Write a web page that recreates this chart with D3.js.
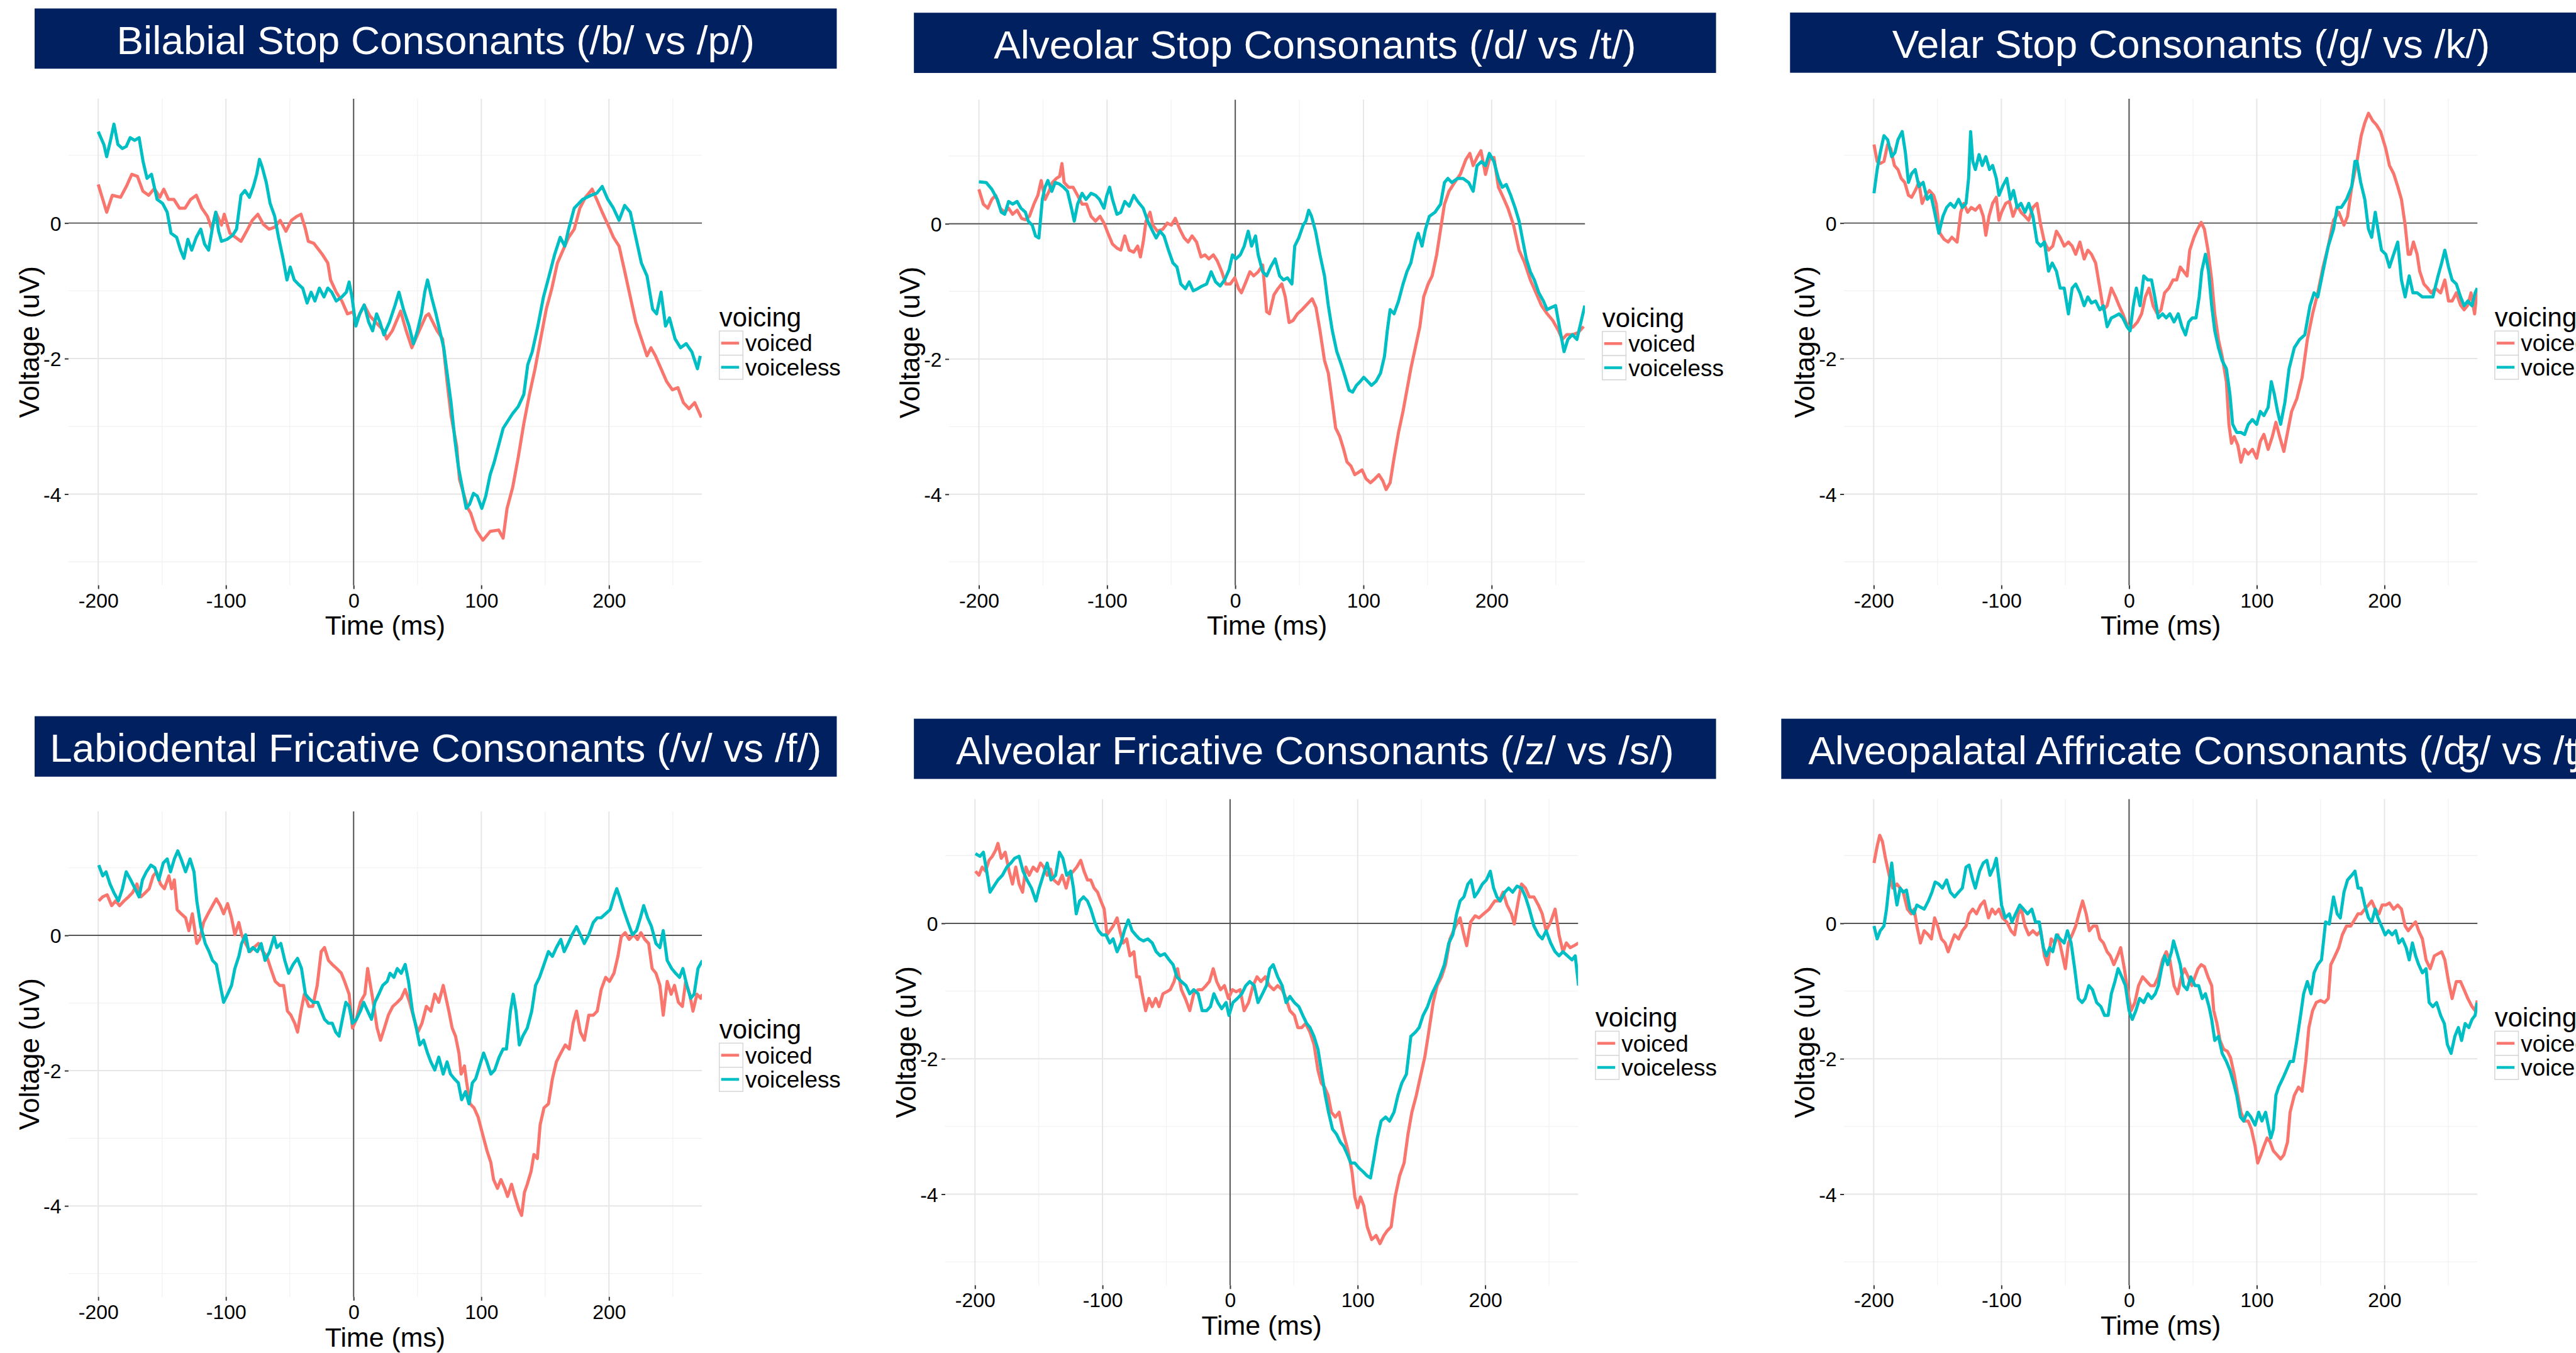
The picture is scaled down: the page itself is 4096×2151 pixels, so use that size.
<!DOCTYPE html>
<html><head><meta charset="utf-8">
<script src="https://cdn.jsdelivr.net/npm/d3@7"></script>
<style>html,body{margin:0;padding:0;background:#fff;overflow:hidden}</style>
</head><body>
<svg id="chart" width="4096" height="2151" viewBox="0 0 4107 2157"></svg>
<script>
const panelTitles = [
  "Bilabial Stop Consonants (/b/ vs /p/)",
  "Alveolar Stop Consonants (/d/ vs /t/)",
  "Velar Stop Consonants (/g/ vs /k/)",
  "Labiodental Fricative Consonants (/v/ vs /f/)",
  "Alveolar Fricative Consonants (/z/ vs /s/)",
  "Alveopalatal Affricate Consonants (/\u02A4/ vs /\u02A7/)"
];
const xTicks = [-200, -100, 0, 100, 200];
const xMinorTicks = [-150, -50, 50, 150, 250];
const yTicks = [-4, -2, 0];
const yMinorTicks = [-5, -3, -1, 1];
const seriesNames = ["voiced", "voiceless"];
const seriesColors = ["#F8766D", "#00BFC4"];
const xDomain = [-223.3, 272.8];
const yDomain = [-5.345, 1.834];
const xLabel = "Time (ms)";
const yLabel = "Voltage (uV)";
const legendTitle = "voicing";

const bilabialVoiced = [[-200,0.57],[-193.4,0.16],[-189,0.41],[-182.5,0.38],[-178,0.54],[-173.7,0.72],[-169.3,0.69],[-165,0.47],[-160.5,0.41],[-156,0.51],[-151.8,0.38],[-148.7,0.5],[-145,0.35],[-140.8,0.35],[-136.4,0.22],[-132,0.22],[-127.6,0.35],[-123.2,0.41],[-118.9,0.22],[-114.5,0.1],[-111,-0.09],[-108,0.16],[-103.5,-0.03],[-101.3,0.13],[-96.9,-0.15],[-92.5,-0.21],[-88.2,-0.27],[-83.8,-0.12],[-79.4,0.04],[-75,0.13],[-70.6,-0.02],[-66.2,-0.09],[-61.8,-0.06],[-57.5,0.04],[-53,-0.12],[-48.7,0.04],[-44.3,0.1],[-41.2,0.13],[-37.7,-0.09],[-35.5,-0.27],[-31.1,-0.3],[-24.6,-0.46],[-20.2,-0.59],[-18,-0.84],[-13.6,-1.02],[-9.2,-1.15],[-4.8,-1.34],[-0.4,-1.31],[1.8,-1.46],[8.3,-1.21],[12.7,-1.37],[17.1,-1.46],[23.7,-1.59],[25.9,-1.71],[30.3,-1.59],[34.6,-1.4],[36.8,-1.3],[41.2,-1.59],[45.6,-1.84],[50,-1.65],[56.6,-1.37],[58.8,-1.34],[65.4,-1.59],[69.7,-1.71],[73.2,-2.34],[76.3,-2.84],[80.7,-3.29],[82.9,-3.78],[89.5,-4.21],[91.7,-4.28],[96,-4.53],[101.3,-4.68],[107,-4.55],[113.6,-4.53],[117.1,-4.65],[120.2,-4.21],[124.6,-3.9],[128.9,-3.46],[133.3,-2.96],[137.7,-2.53],[142.1,-2.15],[146.5,-1.71],[150.9,-1.27],[155.3,-0.96],[159.6,-0.59],[164,-0.4],[168.4,-0.21],[172.8,-0.09],[177.2,0.22],[181.6,0.38],[186.8,0.5],[190.4,0.35],[194.7,0.16],[199.1,-0.02],[203.5,-0.21],[207.9,-0.34],[212.3,-0.71],[216.7,-1.09],[221,-1.46],[225.4,-1.71],[229.8,-1.96],[232.9,-1.84],[236.4,-1.96],[240.8,-2.15],[245.2,-2.34],[249.6,-2.46],[254,-2.43],[258.3,-2.65],[262.7,-2.74],[267.1,-2.65],[272.4,-2.87]];
const bilabialVoiceless = [[-200,1.35],[-195.6,1.16],[-193.4,0.98],[-190.4,1.22],[-187.7,1.46],[-184.6,1.16],[-181.1,1.1],[-178.1,1.13],[-175,1.26],[-171.5,1.22],[-168,1.26],[-164.9,0.91],[-161.8,0.66],[-158.3,0.72],[-153.9,0.35],[-149.6,0.29],[-146,0.16],[-143,-0.15],[-138.6,-0.21],[-135.5,-0.4],[-132.9,-0.52],[-129.8,-0.24],[-126.8,-0.4],[-123.2,-0.21],[-119.7,-0.09],[-116.7,-0.31],[-113.6,-0.4],[-110.1,-0.02],[-107.9,0.16],[-105.7,-0.12],[-103.5,-0.27],[-99.1,-0.24],[-94.7,-0.18],[-91.7,-0.09],[-88.2,0.41],[-85.1,0.48],[-81.6,0.38],[-78.5,0.54],[-75.9,0.72],[-73.7,0.94],[-71.5,0.82],[-68.4,0.6],[-65.4,0.29],[-61.8,0.1],[-58.8,-0.21],[-55.3,-0.52],[-52.2,-0.84],[-49.6,-0.65],[-46.5,-0.84],[-43.4,-0.9],[-39.9,-0.96],[-36.4,-1.18],[-33.3,-1.02],[-30.3,-1.15],[-26.8,-0.96],[-23.2,-1.09],[-20.2,-0.96],[-17.1,-1.02],[-13.6,-1.15],[-9.2,-1.09],[-5.7,-1.02],[-3.5,-0.87],[-1.3,-1.09],[1.8,-1.52],[4.8,-1.34],[8.3,-1.21],[11.8,-1.46],[14.9,-1.59],[18,-1.34],[20.6,-1.46],[23.7,-1.65],[28.1,-1.46],[32.5,-1.21],[35.5,-1.02],[39,-1.27],[43.4,-1.52],[46.9,-1.78],[50,-1.59],[53.1,-1.34],[55.7,-1.02],[57.9,-0.84],[61,-1.09],[64.5,-1.34],[67.5,-1.59],[70.6,-1.84],[73.2,-2.21],[76.3,-2.65],[79.4,-3.21],[82,-3.59],[85.1,-3.9],[88.2,-4.21],[90.8,-4.15],[93.9,-3.99],[96.9,-4.03],[100.4,-4.21],[103.5,-4.03],[107,-3.71],[110.1,-3.53],[113.6,-3.28],[117.1,-3.03],[121.5,-2.9],[124.6,-2.81],[128.9,-2.71],[133.3,-2.53],[136.4,-2.09],[139.9,-1.9],[144.3,-1.52],[148.7,-1.09],[153.1,-0.78],[157.5,-0.46],[161.8,-0.21],[165.4,-0.34],[168.4,-0.09],[172.8,0.22],[179.4,0.35],[186,0.41],[190.4,0.44],[194.7,0.54],[199.1,0.35],[203.5,0.22],[207.9,0.04],[212.3,0.26],[216.7,0.16],[221,-0.21],[225.4,-0.59],[229.8,-0.78],[234.2,-1.27],[237.3,-1.34],[240.8,-1.02],[244.3,-1.52],[247.4,-1.4],[251.8,-1.71],[256.1,-1.84],[260.5,-1.78],[264.9,-1.9],[269.3,-2.15],[271.5,-1.96]];

const alveolarStopVoiced = [[-200,0.51],[-196.5,0.29],[-193,0.23],[-189.9,0.36],[-186.9,0.42],[-183.4,0.23],[-179.9,0.17],[-176.8,0.23],[-173.7,0.14],[-170.2,0.2],[-166.7,0.08],[-163.7,0.06],[-160.6,0.11],[-157.1,0.29],[-154,0.42],[-151.4,0.64],[-148.4,0.36],[-145.3,0.48],[-142.7,0.61],[-139.6,0.67],[-137,0.7],[-135.2,0.89],[-133.5,0.61],[-130,0.54],[-126.5,0.54],[-123,0.42],[-119.5,0.29],[-116,0.29],[-112.5,0.11],[-109,0.04],[-105.5,0.11],[-102.4,0.01],[-99.3,-0.14],[-95.8,-0.3],[-92.3,-0.36],[-89.3,-0.39],[-86.2,-0.18],[-82.7,-0.39],[-79.2,-0.42],[-76.1,-0.33],[-74,-0.49],[-71.8,-0.27],[-69.6,0.04],[-66.5,0.17],[-64.3,-0.02],[-60.8,-0.11],[-56.5,-0.08],[-53,0.01],[-49.9,-0.02],[-46.8,0.08],[-43.3,-0.08],[-39.8,-0.21],[-36.8,-0.27],[-33.7,-0.18],[-30.2,-0.27],[-26.7,-0.49],[-23.6,-0.46],[-20.6,-0.52],[-17.1,-0.46],[-14,-0.55],[-10.5,-0.71],[-7.4,-0.89],[-3.9,-0.89],[-0.4,-0.8],[2.6,-0.96],[4.8,-1.02],[8.3,-0.86],[11.4,-0.71],[14.4,-0.77],[17.9,-0.71],[21.4,-0.61],[24.5,-1.3],[26.7,-1.33],[30.2,-1.05],[33.3,-0.96],[36.3,-0.89],[39,-1.08],[42,-1.46],[45.1,-1.43],[48.6,-1.33],[52.1,-1.27],[56.5,-1.18],[60,-1.11],[63,-1.24],[66.1,-1.58],[69.6,-2.02],[72.6,-2.21],[75.7,-2.64],[78.3,-3.02],[81.4,-3.14],[84.5,-3.33],[87.1,-3.52],[90.2,-3.58],[93.2,-3.71],[95.8,-3.68],[98.9,-3.64],[102,-3.77],[105.5,-3.83],[109,-3.77],[112,-3.71],[115.1,-3.8],[117.7,-3.93],[120.8,-3.83],[123.9,-3.46],[127.4,-3.08],[130.9,-2.77],[133.9,-2.46],[137,-2.14],[140.5,-1.83],[144,-1.52],[147,-1.08],[150.5,-0.89],[153.6,-0.77],[157.1,-0.46],[160.2,-0.08],[163.2,0.29],[166.7,0.48],[171.1,0.61],[175.5,0.73],[179.9,0.95],[183,1.04],[185.6,0.86],[188.6,0.98],[191.7,1.08],[195.2,0.73],[198.2,0.95],[201.8,0.98],[205.3,0.54],[208.3,0.42],[212.7,0.23],[217.1,-0.02],[221.4,-0.39],[225.8,-0.58],[230.2,-0.83],[234.6,-1.02],[238.9,-1.21],[243.3,-1.33],[247.7,-1.43],[252.1,-1.58],[255.1,-1.71],[258.6,-1.64],[263,-1.64],[267.4,-1.61],[271.8,-1.52]];
const alveolarStopVoiceless = [[-200,0.62],[-194.3,0.61],[-189.9,0.51],[-185.6,0.36],[-182.5,0.17],[-179.9,0.14],[-176.8,0.33],[-173.7,0.29],[-170.2,0.33],[-167.2,0.23],[-163.7,0.17],[-161.5,0.04],[-158.4,-0.02],[-155.8,-0.18],[-153.2,-0.21],[-150.5,0.36],[-148.4,0.54],[-146.2,0.64],[-143.1,0.48],[-140.5,0.61],[-137.4,0.59],[-133.9,0.54],[-130.9,0.48],[-127.8,0.23],[-125.6,0.04],[-123,0.29],[-119.5,0.45],[-116.4,0.36],[-112.5,0.45],[-109,0.42],[-105.9,0.36],[-102.4,0.23],[-100.2,0.42],[-98,0.54],[-95.8,0.36],[-92.3,0.14],[-89.3,0.17],[-86.2,0.33],[-82.7,0.26],[-79.2,0.42],[-76.1,0.33],[-71.8,0.23],[-68.3,0.04],[-65.2,-0.08],[-61.7,-0.21],[-58.7,-0.11],[-55.6,-0.18],[-52.1,-0.39],[-48.6,-0.58],[-45.5,-0.64],[-42.5,-0.89],[-38.9,-0.96],[-35.9,-0.86],[-32.8,-0.99],[-29.3,-0.96],[-25.8,-0.92],[-22.3,-0.89],[-18.8,-0.71],[-15.3,-0.86],[-11.8,-0.92],[-8.3,-0.83],[-4.8,-0.68],[-2.2,-0.46],[0.4,-0.52],[3.9,-0.46],[7,-0.33],[10.1,-0.11],[12.7,-0.33],[15.8,-0.18],[17.9,-0.46],[21.4,-0.71],[24.5,-0.77],[27.6,-0.64],[31.1,-0.52],[34.6,-0.77],[37.6,-0.83],[40.7,-0.8],[44.2,-0.89],[46.4,-0.33],[49.5,-0.21],[53,-0.02],[55.1,0.04],[57.3,0.2],[59.5,0.11],[62.6,-0.11],[66.1,-0.46],[69.6,-0.77],[72.6,-1.21],[75.7,-1.58],[79.2,-1.89],[82.7,-2.08],[85.8,-2.27],[88.8,-2.46],[91.5,-2.49],[94.5,-2.39],[97.6,-2.33],[100.2,-2.27],[103.3,-2.33],[106.3,-2.39],[109.8,-2.33],[113.3,-2.21],[116.4,-1.96],[118.6,-1.58],[120.8,-1.27],[123.9,-1.33],[127.4,-1.14],[130.9,-0.89],[133.9,-0.71],[137,-0.58],[140.5,-0.27],[142.7,-0.14],[145.7,-0.33],[148.4,-0.08],[151.4,0.11],[155.8,0.17],[160.2,0.29],[163.2,0.61],[165.9,0.67],[168.9,0.61],[173.3,0.67],[177.7,0.67],[182.1,0.61],[185.6,0.48],[188.6,0.86],[192.1,0.92],[195.2,0.86],[198.2,1.04],[201.8,0.92],[205.3,0.67],[208.3,0.54],[211.4,0.58],[214.9,0.42],[218.4,0.23],[221.4,0.04],[224.5,-0.27],[227.1,-0.52],[230.2,-0.71],[233.3,-0.83],[236.8,-1.02],[240.3,-1.14],[243.3,-1.27],[246.4,-1.24],[249.9,-1.21],[253.4,-1.58],[256.5,-1.89],[259.5,-1.71],[263,-1.64],[266.5,-1.71],[269.6,-1.46],[272.7,-1.21]];

const velarVoiced = [[-199.8,1.16],[-197.3,0.91],[-194.9,0.88],[-192,0.91],[-189.1,1.16],[-186.7,1.1],[-183.8,0.85],[-181,0.79],[-178.5,0.66],[-175.7,0.6],[-172.8,0.41],[-170.3,0.38],[-167.5,0.48],[-164.6,0.6],[-162.1,0.29],[-159.3,0.41],[-156.4,0.48],[-153.1,0.41],[-151.1,0.29],[-148.2,-0.15],[-144.9,-0.24],[-141.7,-0.28],[-138.8,-0.21],[-134.7,-0.28],[-131.8,0.16],[-129.4,0.29],[-126.5,0.16],[-123.6,0.23],[-120.4,0.19],[-117.1,0.26],[-114.2,0.1],[-112.2,-0.18],[-109.7,0.1],[-106.9,0.29],[-104,0.38],[-101.9,0.04],[-99.9,0.16],[-96.6,0.29],[-93.8,0.32],[-90.9,0.1],[-87.6,0.26],[-84.7,0.16],[-81.5,0.1],[-78.6,0.04],[-75.3,0.23],[-72.1,0.29],[-69.2,-0.03],[-66.3,-0.28],[-63.1,-0.4],[-59.8,-0.34],[-56.9,-0.12],[-54,-0.21],[-50.8,-0.34],[-47.5,-0.28],[-44.6,-0.34],[-41.8,-0.46],[-38.5,-0.28],[-35.2,-0.53],[-32.3,-0.4],[-29.5,-0.46],[-26.2,-0.59],[-22.9,-0.96],[-20.1,-1.28],[-17.2,-1.22],[-13.9,-0.96],[-10.6,-1.09],[-7.8,-1.22],[-4.9,-1.34],[-2.5,-1.46],[0.4,-1.56],[3.3,-1.53],[6.6,-1.46],[9.8,-1.34],[12.7,-1.09],[15.6,-0.96],[18.8,-1.22],[22.1,-1.34],[25,-1.28],[27.8,-1.03],[31.1,-0.96],[34.4,-0.84],[37.3,-0.84],[40.1,-0.65],[42.6,-0.71],[45.4,-0.78],[47.5,-0.4],[50.8,-0.21],[53.6,-0.09],[56.5,0.01],[59,-0.09],[61.8,-0.4],[64.7,-0.84],[67.1,-1.34],[70,-1.72],[72.9,-1.97],[76.2,-2.34],[78.2,-2.97],[80.2,-3.25],[82.3,-3.15],[85.2,-3.28],[87.6,-3.53],[90.5,-3.34],[93.3,-3.41],[96.6,-3.34],[99.9,-3.47],[102.8,-3.22],[105.6,-3.12],[108.9,-3.34],[112.2,-3.15],[115,-2.94],[117.9,-3.15],[121.2,-3.37],[124.1,-3.09],[127.3,-2.78],[131.4,-2.59],[135.5,-2.28],[139.6,-1.72],[143.7,-1.34],[147.8,-1.03],[151.9,-0.65],[156,-0.34],[160.1,0.04],[164.2,0.16],[168.3,-0.03],[171.1,0.1],[174.4,0.54],[178.5,0.91],[181.8,1.29],[184.6,1.48],[187.5,1.62],[190.8,1.51],[193.7,1.45],[197,1.35],[201,1.1],[203.9,0.85],[207.2,0.73],[210.4,0.54],[213.3,0.35],[216.2,-0.03],[218.6,-0.46],[220.3,-0.46],[222.7,-0.28],[225.6,-0.46],[227.6,-0.71],[230.9,-0.9],[233.8,-0.96],[236.6,-1.03],[239.9,-0.96],[244,-1.03],[247.3,-0.84],[250.2,-1.15],[253,-1.15],[256.3,-1.03],[259.6,-1.21],[262.4,-1.28],[265.3,-1.21],[267.8,-1.03],[270.6,-1.34],[272.7,-0.96]];
const velarVoiceless = [[-199.8,0.44],[-197.3,0.79],[-194.9,1.04],[-192,1.29],[-189.1,1.23],[-185.9,0.98],[-183.4,1.04],[-181,1.23],[-177.7,1.35],[-175.2,1.04],[-172.8,0.6],[-170.3,0.73],[-167.5,0.79],[-164.6,0.54],[-161.3,0.6],[-158,0.35],[-155.2,0.41],[-152.3,0.16],[-149,-0.15],[-145.8,0.1],[-142.9,0.23],[-140,0.29],[-136.8,0.23],[-133.5,0.35],[-130.6,0.23],[-127.7,0.29],[-125.7,0.66],[-124.1,1.35],[-122.4,0.91],[-120.4,0.79],[-117.5,1.01],[-115,0.85],[-112.2,0.98],[-109.3,0.79],[-106.9,0.85],[-104,0.66],[-101.9,0.41],[-99.1,0.54],[-95.8,0.66],[-93,0.35],[-90.5,0.48],[-87.6,0.23],[-84.7,0.29],[-81.5,0.16],[-78.6,0.29],[-75.3,0.1],[-72.1,-0.28],[-69.2,-0.34],[-66.3,-0.28],[-63.1,-0.71],[-60.2,-0.59],[-56.9,-0.71],[-54,-0.96],[-50.8,-0.96],[-47.5,-1.34],[-44.6,-0.96],[-41.8,-0.9],[-38.5,-1.03],[-35.2,-1.22],[-32.3,-1.09],[-29.5,-1.18],[-26.2,-1.15],[-22.9,-1.28],[-20.1,-1.22],[-17.2,-1.53],[-13.9,-1.4],[-10.6,-1.37],[-7.8,-1.34],[-4.9,-1.4],[-1.6,-1.53],[0.8,-1.59],[3.3,-1.22],[5.7,-0.96],[8.6,-1.22],[11.5,-0.78],[14.7,-0.84],[17.6,-0.84],[20.1,-1.09],[22.9,-1.4],[26.2,-1.34],[29.1,-1.4],[31.9,-1.34],[35.2,-1.46],[38.5,-1.34],[41.4,-1.53],[44.2,-1.65],[46.7,-1.46],[49.5,-1.4],[52.4,-1.4],[54.9,-1.09],[56.9,-0.71],[59.8,-0.46],[62.2,-0.71],[64.7,-1.22],[67.1,-1.59],[70,-1.84],[72.9,-2.03],[76.2,-2.15],[79,-2.53],[81.1,-2.97],[84.3,-3.09],[87.6,-3.09],[90.5,-3.12],[93.3,-2.97],[96.6,-2.9],[99.9,-2.97],[102.8,-2.78],[105.6,-2.84],[108.9,-2.72],[111.4,-2.34],[113.8,-2.53],[116.3,-2.78],[118.7,-2.97],[122,-2.65],[125.3,-2.15],[129.4,-1.84],[133.5,-1.72],[137.6,-1.65],[141.7,-1.22],[144.9,-1.03],[147.8,-1.09],[151.9,-0.71],[156,-0.34],[160.1,-0.09],[163,0.23],[166.2,0.23],[170.3,0.35],[174.4,0.54],[176.9,0.91],[178.5,0.91],[181.4,0.6],[184.6,0.35],[187.5,-0.09],[190,-0.21],[192.8,0.16],[194.9,-0.09],[197.7,-0.4],[201,-0.46],[203.9,-0.65],[207.2,-0.46],[210.4,-0.28],[213.3,-0.84],[216.2,-1.09],[219.4,-0.78],[222.3,-1.03],[225.6,-1.03],[229.7,-1.09],[233.8,-1.09],[237.9,-1.09],[242,-0.78],[244.8,-0.59],[247.3,-0.4],[250.2,-0.65],[253,-0.84],[256.3,-0.9],[259.6,-1.09],[262.4,-1.22],[265.3,-1.15],[268.6,-1.22],[271,-1.03],[272.7,-0.96]];

const labiodentalVoiced = [[-199.6,0.51],[-196.5,0.57],[-193,0.6],[-189.5,0.44],[-186.4,0.51],[-183.3,0.44],[-179.8,0.51],[-176.3,0.57],[-173.2,0.63],[-169.7,0.76],[-166.7,0.57],[-163.2,0.63],[-160.1,0.69],[-157,0.88],[-154.4,0.94],[-151.3,0.76],[-148.2,0.69],[-144.7,0.88],[-142.5,0.69],[-140.4,0.82],[-138.2,0.38],[-135.1,0.32],[-131.6,0.26],[-129,0.07],[-126.3,0.32],[-122.8,-0.12],[-120.6,-0.06],[-117.5,0.19],[-114,0.32],[-110.5,0.44],[-107.5,0.54],[-104.4,0.44],[-101.8,0.32],[-98.7,0.47],[-95.6,0.26],[-93,0.01],[-89.9,0.19],[-87.7,0.01],[-84.6,-0.12],[-81.1,-0.24],[-78.1,-0.18],[-74.6,-0.12],[-71.1,-0.24],[-68,-0.31],[-64.9,-0.49],[-61.4,-0.68],[-57.9,-0.74],[-54.8,-0.74],[-51.8,-1.12],[-49.1,-1.18],[-46.1,-1.3],[-43.9,-1.43],[-41.2,-1.12],[-38.6,-0.87],[-35.1,-1.05],[-32,-1.05],[-28.5,-0.74],[-25.4,-0.24],[-22.8,-0.18],[-19.7,-0.37],[-16.7,-0.43],[-13.2,-0.49],[-9.6,-0.56],[-7.1,-0.68],[-3.5,-0.87],[-0.9,-1.37],[2.2,-1.24],[5.3,-0.99],[8.8,-0.87],[11,-0.49],[13.2,-0.74],[15.4,-0.99],[18.4,-1.37],[21.1,-1.55],[24.1,-1.37],[27.2,-1.18],[30.7,-1.05],[34.2,-0.99],[37.3,-0.93],[40.4,-0.8],[43.9,-0.99],[47.4,-1.24],[50.4,-1.43],[53.5,-1.3],[57,-1.05],[60.5,-1.12],[63.6,-0.87],[66.7,-0.99],[70.2,-0.74],[72.4,-0.93],[74.6,-1.12],[77.2,-1.37],[79.8,-1.49],[82.5,-1.74],[84.2,-2.05],[86.8,-1.93],[88.6,-2.18],[91.2,-2.49],[94.3,-2.55],[97.4,-2.68],[100.9,-2.93],[104.4,-3.18],[107.5,-3.36],[109.6,-3.61],[112.7,-3.74],[115.4,-3.61],[118.4,-3.74],[120.6,-3.86],[123.7,-3.68],[126.3,-3.86],[129.4,-4.05],[131.6,-4.14],[133.8,-3.8],[136,-3.68],[139,-3.49],[141.2,-3.24],[143.9,-3.3],[146.1,-2.8],[149.1,-2.55],[152.6,-2.49],[155.7,-2.12],[158.8,-1.87],[162.3,-1.74],[165.8,-1.62],[168.9,-1.68],[171.9,-1.3],[174.6,-1.12],[177.6,-1.43],[180.7,-1.55],[184.2,-1.18],[187.7,-1.18],[190.8,-1.12],[193.9,-0.8],[197.4,-0.62],[200.4,-0.68],[203.9,-0.56],[207,-0.31],[209.6,-0.02],[212.7,0.04],[215.8,-0.06],[219.3,0.01],[222.4,-0.06],[225,0.04],[228.1,-0.06],[231.1,-0.12],[233.8,-0.49],[236.8,-0.56],[239.9,-0.74],[242.5,-1.18],[245.6,-0.68],[248.7,-0.87],[251.3,-0.74],[254.4,-0.99],[257.5,-1.05],[260.1,-0.68],[263.2,-0.87],[265.8,-1.12],[268.9,-0.87],[271.9,-0.93],[273.2,-0.87]];
const labiodentalVoiceless = [[-199.6,1.04],[-196.5,0.88],[-193.9,0.94],[-190.8,0.76],[-187.7,0.63],[-184.2,0.51],[-181.1,0.69],[-178.1,0.94],[-174.6,0.82],[-171.1,0.69],[-168,0.57],[-165.4,0.82],[-162.3,0.94],[-158.8,1.04],[-155.7,1.0],[-152.6,0.82],[-149.1,1.07],[-146,1.13],[-143.4,0.94],[-140.4,1.13],[-137.7,1.25],[-135.1,1.13],[-131.6,0.94],[-128.1,1.13],[-125,0.94],[-122.8,0.51],[-119.7,0.13],[-116.2,-0.12],[-113.2,-0.24],[-110.5,-0.37],[-107.5,-0.43],[-104.4,-0.74],[-101.8,-0.99],[-98.7,-0.87],[-95.6,-0.74],[-93,-0.49],[-89.9,-0.31],[-87.7,-0.12],[-84.6,0.01],[-82,-0.24],[-78.9,-0.18],[-75.4,-0.24],[-72.4,-0.12],[-69.3,-0.37],[-65.8,-0.24],[-62.3,-0.02],[-60.1,-0.18],[-57,-0.12],[-53.9,-0.37],[-50.9,-0.56],[-47.4,-0.43],[-43.9,-0.34],[-40.8,-0.49],[-37.7,-0.87],[-35.1,-0.93],[-31.6,-0.99],[-28.1,-0.99],[-25.4,-1.12],[-22.8,-1.24],[-19.7,-1.3],[-16.7,-1.3],[-14,-1.43],[-11.4,-1.49],[-8.8,-1.24],[-6.1,-0.99],[-3.5,-1.05],[-0.9,-1.3],[2.2,-1.24],[5.3,-1.12],[7.9,-0.99],[11,-1.12],[14,-1.24],[16.7,-0.99],[19.7,-0.87],[22.8,-0.74],[26.3,-0.68],[28.5,-0.56],[31.6,-0.62],[34.2,-0.49],[37.3,-0.56],[40.4,-0.43],[43,-0.68],[46.1,-1.12],[49.1,-1.37],[51.8,-1.62],[54.8,-1.55],[57.9,-1.74],[60.5,-1.87],[63.6,-1.99],[66.7,-1.8],[70.2,-2.05],[73.2,-1.87],[75.9,-2.05],[78.9,-2.12],[82,-2.18],[84.6,-2.43],[87.7,-2.31],[90.4,-2.49],[93,-2.18],[95.6,-2.12],[98.7,-1.93],[101.8,-1.74],[104.4,-1.87],[107.5,-2.05],[110.5,-1.99],[114,-1.8],[117.1,-1.68],[119.7,-1.68],[122.8,-1.12],[125,-0.87],[127.2,-1.12],[129.8,-1.62],[132.5,-1.49],[136,-1.37],[139.5,-1.12],[142.5,-0.74],[145.6,-0.62],[149.1,-0.43],[152.6,-0.24],[155.7,-0.31],[158.8,-0.18],[162.3,-0.06],[164.9,-0.24],[168,-0.12],[171.1,0.01],[174.6,0.13],[177.6,0.01],[180.7,-0.12],[184.2,0.01],[187.7,0.19],[190.8,0.26],[193.9,0.26],[197.4,0.32],[200.9,0.38],[203.9,0.57],[206.1,0.69],[208.3,0.57],[211.4,0.38],[214.9,0.19],[218.4,0.01],[221.5,0.07],[224.6,0.26],[227.2,0.44],[230.3,0.26],[233.3,0.13],[236.8,-0.12],[239.9,-0.18],[242.5,0.07],[245.6,-0.37],[249.1,-0.49],[252.2,-0.56],[255.3,-0.62],[257.9,-0.49],[261,-0.74],[264,-0.93],[266.7,-0.87],[269.7,-0.49],[273.2,-0.37]];

const alveolarFricVoiced = [[-199.6,0.77],[-196.9,0.71],[-194.3,0.83],[-191.7,0.77],[-189,0.93],[-186.4,0.99],[-183.8,1.08],[-182,1.18],[-179.4,0.96],[-176.3,1.05],[-173.2,0.77],[-170.6,0.58],[-168,0.83],[-165.4,0.58],[-162.7,0.46],[-160.1,0.83],[-157.5,0.71],[-154.4,0.83],[-151.3,0.77],[-148.7,0.89],[-146.1,0.83],[-143.4,0.71],[-140.8,0.8],[-138.2,0.64],[-134.6,0.58],[-131.6,0.71],[-128.5,0.52],[-125.9,0.71],[-122.8,0.77],[-120.2,0.83],[-117.1,0.93],[-114.5,0.77],[-111.8,0.64],[-109.2,0.64],[-106.6,0.52],[-103.9,0.46],[-101.3,0.33],[-98.7,0.21],[-96.5,-0.17],[-94.3,-0.11],[-91.7,-0.04],[-88.6,0.08],[-86.4,-0.11],[-83.8,-0.29],[-81.1,-0.23],[-78.5,-0.48],[-75.4,-0.42],[-73.2,-0.79],[-71.1,-0.79],[-68.9,-1.04],[-66.2,-1.29],[-63.6,-1.11],[-61,-1.23],[-58.3,-1.11],[-55.7,-1.23],[-52.6,-1.04],[-49.6,-1.01],[-46.9,-0.98],[-43.9,-0.86],[-41.2,-0.67],[-38.2,-0.98],[-35.1,-1.11],[-31.6,-1.29],[-28.5,-1.04],[-25,-0.98],[-21.9,-0.98],[-18.9,-0.92],[-16.2,-0.86],[-13.2,-0.67],[-10.5,-0.86],[-7.5,-0.98],[-4.4,-0.92],[-1.3,-1.11],[1.8,-0.98],[4.8,-1.01],[7.9,-0.98],[11,-1.29],[14.5,-1.17],[18,-0.92],[21.1,-0.79],[24.1,-0.86],[27.6,-0.79],[30.7,-0.92],[34.2,-0.98],[37.3,-0.92],[40.8,-0.98],[43.9,-1.11],[46.9,-1.29],[50.4,-1.36],[53.1,-1.54],[56.1,-1.54],[59.2,-1.48],[62.7,-1.61],[65.8,-1.79],[68.9,-2.17],[71.5,-2.36],[74.1,-2.42],[76.8,-2.54],[79.4,-2.79],[82.5,-2.86],[85.5,-2.79],[89,-3.11],[92.5,-3.36],[95.6,-3.67],[97.8,-4.04],[100,-4.2],[102.2,-4.04],[104.8,-4.17],[107.5,-4.48],[111,-4.67],[114.5,-4.61],[117.5,-4.73],[120.6,-4.61],[123.2,-4.54],[126.3,-4.48],[129.4,-4.04],[132.9,-3.73],[136.4,-3.54],[139.5,-3.11],[142.5,-2.79],[146,-2.54],[149.6,-2.23],[152.6,-1.98],[155.7,-1.61],[159.2,-1.17],[162.3,-0.92],[165.8,-0.79],[168.9,-0.61],[172.4,-0.23],[176.8,-0.04],[180.3,0.08],[183.3,-0.17],[185.5,-0.33],[188.6,0.02],[192.1,0.11],[195.2,0.08],[198.7,0.14],[203.1,0.21],[207.5,0.33],[211,0.33],[214,0.46],[217.1,0.27],[220.6,0.14],[222.8,-0.01],[225.9,0.33],[228.5,0.58],[231.6,0.52],[234.6,0.39],[238.2,0.39],[241.7,0.27],[244.7,0.14],[247.8,-0.11],[251.3,0.02],[254.8,0.21],[257.9,-0.17],[261,-0.42],[263.6,-0.29],[266.7,-0.36],[269.7,-0.33],[273.2,-0.29]];
const alveolarFricVoiceless = [[-199.6,1.03],[-196.1,0.99],[-193.4,1.05],[-190.8,0.77],[-188.2,0.46],[-185.1,0.55],[-182,0.64],[-178.5,0.71],[-175,0.83],[-171.9,0.89],[-168.9,0.96],[-165.4,0.99],[-162.3,0.77],[-159.2,0.64],[-155.7,0.52],[-152.2,0.33],[-149.6,0.52],[-146.5,0.71],[-143.4,0.89],[-140.4,0.64],[-136.8,0.71],[-133.8,1.05],[-131.1,0.96],[-128.1,0.71],[-125,0.77],[-122.8,0.52],[-120.6,0.14],[-118,0.33],[-114.9,0.39],[-111.8,0.33],[-109.2,0.21],[-106.1,0.02],[-103.1,-0.11],[-100.4,-0.17],[-97.4,-0.17],[-94.3,-0.29],[-91.7,-0.23],[-88.6,-0.42],[-85.5,-0.29],[-82.9,-0.11],[-79.8,0.05],[-76.8,-0.11],[-74.1,-0.17],[-71.1,-0.23],[-68,-0.26],[-64.5,-0.23],[-61,-0.29],[-57.9,-0.42],[-54.8,-0.48],[-51.3,-0.45],[-47.8,-0.54],[-44.7,-0.61],[-41.7,-0.79],[-38.2,-0.86],[-34.6,-0.92],[-31.6,-1.04],[-28.5,-0.98],[-25,-1.04],[-21.9,-1.29],[-18.4,-1.29],[-15.4,-1.23],[-12.7,-1.04],[-9.6,-1.17],[-6.6,-1.26],[-3.1,-1.17],[-0.9,-1.36],[2.2,-1.17],[5.7,-1.11],[9.2,-1.04],[12.3,-0.92],[15.4,-0.86],[18.9,-0.92],[21.9,-1.17],[25.4,-1.04],[28.5,-0.92],[31.1,-0.67],[33.8,-0.61],[37.3,-0.79],[40.8,-0.92],[43.9,-1.17],[46.9,-1.08],[50.4,-1.17],[53.9,-1.23],[57,-1.36],[60.1,-1.48],[62.7,-1.54],[65.8,-1.67],[68.9,-1.86],[71.5,-2.17],[74.6,-2.54],[77.2,-2.79],[80.3,-3.04],[83.3,-3.11],[86.4,-3.23],[89,-3.29],[92.1,-3.42],[94.7,-3.54],[97.8,-3.54],[100.9,-3.61],[104.4,-3.67],[107.5,-3.73],[110.1,-3.76],[112.7,-3.48],[115.4,-3.17],[118.4,-2.92],[121.9,-2.86],[125,-2.92],[128.5,-2.79],[131.6,-2.54],[134.6,-2.36],[138.2,-2.23],[141.7,-1.67],[145.2,-1.61],[148.2,-1.54],[151.3,-1.36],[154.8,-1.23],[158.3,-1.04],[161.4,-0.92],[164.5,-0.79],[168,-0.61],[171.5,-0.29],[174.6,-0.17],[177.6,0.14],[180.3,0.33],[183.3,0.39],[186.4,0.58],[189,0.64],[191.7,0.39],[194.3,0.46],[197.8,0.58],[200.9,0.64],[204,0.77],[206.6,0.52],[209.2,0.39],[211.8,0.33],[215.4,0.46],[218.4,0.52],[221.5,0.46],[225,0.55],[228.5,0.52],[231.6,0.39],[234.6,0.21],[238.2,-0.04],[241.7,-0.17],[244.7,-0.23],[247.8,-0.11],[251.3,-0.29],[254.8,-0.42],[257.9,-0.48],[261,-0.42],[264.5,-0.48],[268,-0.54],[270.6,-0.48],[273.2,-0.92]];

const alveopalatalVoiced = [[-199.8,0.89],[-197.3,1.14],[-195.3,1.3],[-193.2,1.21],[-190.8,0.96],[-187.9,0.71],[-185.1,0.52],[-181.8,0.58],[-179.3,0.52],[-176.9,0.46],[-173.6,0.21],[-170.7,0.14],[-168.3,0.21],[-166.2,-0.04],[-163.4,-0.29],[-160.5,-0.11],[-157.2,-0.17],[-154.8,-0.23],[-152.3,0.08],[-149.9,-0.04],[-147,-0.23],[-144.1,-0.29],[-141.7,-0.42],[-139.2,-0.29],[-136.7,-0.17],[-133.5,-0.23],[-130.6,-0.11],[-127.7,-0.04],[-125.3,0.14],[-122.4,0.21],[-119.5,0.14],[-116.3,0.27],[-113.4,0.33],[-110.1,0.08],[-107.3,0.21],[-104.8,0.14],[-101.9,0.21],[-99.1,0.08],[-95.8,0.02],[-92.5,-0.11],[-89.7,-0.17],[-86.8,0.14],[-84.3,0.21],[-81.5,-0.04],[-78.6,-0.17],[-75.3,-0.11],[-72.1,-0.17],[-69.2,-0.11],[-66.3,-0.48],[-63.9,-0.61],[-61,-0.23],[-58.1,-0.29],[-55.7,-0.17],[-52.8,-0.42],[-49.9,-0.67],[-47.5,-0.29],[-44.6,-0.17],[-41.8,-0.04],[-39.3,0.14],[-36.4,0.33],[-33.6,0.14],[-31.1,-0.11],[-28.2,-0.04],[-25.4,-0.04],[-22.9,-0.23],[-20.1,-0.29],[-17.2,-0.42],[-14.7,-0.48],[-11.9,-0.61],[-9,-0.48],[-6.6,-0.36],[-3.7,-0.67],[-0.8,-1.04],[1.6,-1.29],[4.5,-1.17],[7.4,-0.92],[10.6,-0.79],[13.9,-0.86],[16.8,-0.92],[19.7,-0.92],[22.9,-0.79],[26.2,-0.54],[29.1,-0.42],[31.9,-0.54],[35.2,-0.92],[38.1,-1.04],[40.9,-0.79],[43.4,-0.67],[46.3,-0.79],[49.1,-0.92],[51.6,-0.79],[54,-0.67],[56.5,-0.61],[59,-0.64],[61.8,-0.79],[64.7,-0.92],[66.3,-1.29],[68.8,-1.48],[71.2,-1.73],[74.1,-1.86],[77,-1.89],[79.4,-1.98],[82.3,-2.23],[85.2,-2.54],[87.6,-2.79],[90.5,-2.92],[93.3,-2.92],[95.8,-3.04],[98.7,-3.29],[100.7,-3.54],[103.2,-3.42],[105.6,-3.29],[108.1,-3.17],[110.5,-3.23],[113,-3.36],[115.9,-3.42],[118.7,-3.48],[121.2,-3.42],[124.1,-3.23],[126.1,-2.79],[129.4,-2.54],[132.7,-2.42],[135.5,-2.48],[138.4,-2.04],[140.8,-1.54],[143.7,-1.29],[146.6,-1.17],[149.8,-1.14],[153.1,-1.17],[156,-1.11],[158,-0.61],[161.3,-0.48],[164.2,-0.36],[167,-0.17],[170.3,-0.04],[173.6,-0.04],[176.5,0.05],[179.3,0.14],[181.8,0.14],[184.6,0.21],[187.5,0.27],[190,0.33],[192.8,0.21],[195.7,0.14],[198.2,0.27],[201,0.27],[203.9,0.3],[207.2,0.21],[210.4,0.27],[213.3,0.21],[216.2,-0.04],[218.6,-0.11],[221.5,-0.04],[224.4,0.02],[226.8,-0.11],[229.7,-0.23],[232.6,-0.54],[235.8,-0.67],[239.1,-0.48],[242,-0.45],[244.8,-0.42],[247.3,-0.54],[250.2,-0.86],[253,-1.11],[256.3,-0.86],[259.6,-0.86],[262.4,-0.98],[265.3,-1.11],[268.6,-1.23],[271,-1.29],[272.7,-1.14]];
const alveopalatalVoiceless = [[-199.8,-0.04],[-197.3,-0.23],[-194.9,-0.11],[-192,-0.04],[-190,0.21],[-187.9,0.58],[-185.9,0.89],[-183.8,0.52],[-181.8,0.27],[-179.3,0.52],[-176.9,0.46],[-174.4,0.49],[-171.6,0.21],[-168.7,0.14],[-166.2,0.27],[-163.4,0.24],[-160.5,0.21],[-157.2,0.33],[-154.4,0.46],[-151.9,0.61],[-149.1,0.58],[-146.2,0.52],[-142.9,0.64],[-140,0.46],[-136.7,0.39],[-133.5,0.46],[-130.6,0.52],[-127.7,0.83],[-125.3,0.86],[-122.4,0.64],[-120.4,0.52],[-117.1,0.77],[-114.2,0.89],[-111.4,0.93],[-108.9,0.71],[-106,0.83],[-104,0.96],[-101.9,0.64],[-99.9,0.27],[-97,0.08],[-93.8,0.14],[-91.7,0.02],[-88.9,0.14],[-85.6,0.27],[-82.7,0.21],[-79.5,0.14],[-76.2,0.21],[-73.3,0.02],[-70.4,0.02],[-67.1,-0.36],[-64.7,-0.48],[-62.2,-0.36],[-59.8,-0.42],[-56.9,-0.17],[-54,-0.23],[-50.8,-0.29],[-48.3,-0.11],[-45.4,-0.29],[-42.6,-0.67],[-39.7,-1.11],[-36.8,-1.17],[-34.4,-1.11],[-31.5,-0.92],[-28.7,-0.98],[-25.4,-1.17],[-22.1,-1.23],[-19.2,-1.36],[-16.4,-1.36],[-13.9,-1.04],[-11.1,-0.86],[-8.6,-0.67],[-5.7,-0.79],[-2.9,-0.92],[0,-1.29],[2.5,-1.42],[5.3,-1.29],[8.2,-1.11],[11.5,-1.17],[14.7,-1.04],[17.6,-1.11],[20.5,-1.04],[22.9,-0.92],[25.4,-0.67],[27.8,-0.48],[30.3,-0.61],[33.2,-0.42],[34.8,-0.26],[37.3,-0.42],[40.1,-0.61],[42.6,-0.92],[45.4,-0.98],[48.3,-0.79],[51.6,-0.92],[54.5,-0.92],[57.3,-1.11],[59.8,-1.04],[62.6,-1.23],[64.7,-1.42],[67.1,-1.73],[70,-1.67],[72.9,-1.92],[76.2,-2.04],[79,-2.17],[81.9,-2.36],[84.3,-2.54],[87.2,-2.86],[89.7,-2.92],[92.5,-2.79],[95.4,-2.86],[98.7,-2.98],[101.5,-2.79],[104,-2.92],[106.9,-2.79],[108.9,-2.98],[111,-3.17],[113,-3.04],[115,-2.54],[117.1,-2.42],[120.4,-2.29],[123.2,-2.17],[126.1,-2.04],[128.6,-2.04],[131.4,-1.73],[134.3,-1.36],[136.7,-1.04],[139.6,-0.86],[142.5,-1.04],[144.9,-0.73],[147.8,-0.61],[150.7,-0.54],[153.9,0.02],[156.8,-0.01],[160.1,0.39],[163,0.14],[165.4,0.08],[168.3,0.46],[171.1,0.64],[174.4,0.71],[176.9,0.77],[179.3,0.52],[181.8,0.52],[184.6,0.27],[187.5,0.08],[190,0.02],[192.8,0.21],[194.9,0.08],[197.7,-0.04],[200.6,-0.17],[203.1,-0.11],[206,-0.17],[208.8,-0.11],[211.3,-0.29],[214.1,-0.23],[217,-0.36],[219.4,-0.54],[221.9,-0.29],[224.4,-0.48],[226.8,-0.61],[229.7,-0.73],[232.6,-0.67],[235,-1.17],[237.9,-1.23],[240.8,-1.17],[244,-1.36],[246.9,-1.48],[249.3,-1.79],[252.2,-1.92],[255.1,-1.67],[257.9,-1.54],[260.4,-1.73],[263.2,-1.48],[266.1,-1.54],[268.6,-1.42],[271,-1.36],[272.7,-1.17]];

const panelSeries = [
  [bilabialVoiced, bilabialVoiceless],
  [alveolarStopVoiced, alveolarStopVoiceless],
  [velarVoiced, velarVoiceless],
  [labiodentalVoiced, labiodentalVoiceless],
  [alveolarFricVoiced, alveolarFricVoiceless],
  [alveopalatalVoiced, alveopalatalVoiceless]
];

// layout (reference pixel coordinates)
const layout = [
  {box:[55,13.5,1279,96], plot:[109,157.5,1010,775.5]},
  {box:[1457,20.3,1279,96], plot:[1513,159,1014,774]},
  {box:[2854,20,1279,96], plot:[2940,157.5,1010,775.5]},
  {box:[55,1141.8,1279,96.4], plot:[109,1293.5,1010,774]},
  {box:[1457,1145.8,1279,96], plot:[1507,1274,1009,775]},
  {box:[2840,1145.8,1279,96], plot:[2940,1274,1010,775], titleStart:2883}
];

const FONT = "'Liberation Sans', Arial, sans-serif";
const svg = d3.select("#chart");
svg.append("rect").attr("width",4107).attr("height",2157).attr("fill","#fff");

layout.forEach((L, i) => {
  const g = svg.append("g");
  const [bx, by, bw, bh] = L.box;
  g.append("rect").attr("x",bx).attr("y",by).attr("width",bw).attr("height",bh).attr("fill","#002060");
  g.append("text")
    .attr("x", L.titleStart != null ? L.titleStart : bx + bw/2)
    .attr("y", by + 72.5)
    .attr("text-anchor", L.titleStart != null ? "start" : "middle")
    .attr("fill","#fff").style("font-family",FONT).style("font-size","64px")
    .text(panelTitles[i]);

  const [px, py, pw, ph] = L.plot;
  const x = d3.scaleLinear().domain(xDomain).range([px, px+pw]);
  const y = d3.scaleLinear().domain(yDomain).range([py+ph, py]);

  // minor grid
  g.selectAll(null).data(xMinorTicks).join("line")
    .attr("x1",d=>x(d)).attr("x2",d=>x(d)).attr("y1",py).attr("y2",py+ph)
    .attr("stroke","#f2f2f2").attr("stroke-width",1.3);
  g.selectAll(null).data(yMinorTicks).join("line")
    .attr("y1",d=>y(d)).attr("y2",d=>y(d)).attr("x1",px).attr("x2",px+pw)
    .attr("stroke","#f2f2f2").attr("stroke-width",1.3);
  // major grid
  g.selectAll(null).data(xTicks).join("line")
    .attr("x1",d=>x(d)).attr("x2",d=>x(d)).attr("y1",py).attr("y2",py+ph)
    .attr("stroke","#e6e6e6").attr("stroke-width",2);
  g.selectAll(null).data(yTicks).join("line")
    .attr("y1",d=>y(d)).attr("y2",d=>y(d)).attr("x1",px).attr("x2",px+pw)
    .attr("stroke","#e6e6e6").attr("stroke-width",2);

  // axes
  const fmt = d => String(d);
  const ax = g.append("g").attr("transform",`translate(0,${py+ph})`)
    .call(d3.axisBottom(x).tickValues(xTicks).tickSize(6).tickPadding(6.5).tickFormat(fmt));
  const ay = g.append("g").attr("transform",`translate(${px},0)`)
    .call(d3.axisLeft(y).tickValues(yTicks).tickSize(6).tickPadding(5.5).tickFormat(fmt));
  [ax, ay].forEach(a => {
    a.select(".domain").remove();
    a.selectAll(".tick line").attr("stroke","#333").attr("stroke-width",2);
    a.selectAll(".tick text").attr("fill","#000").style("font-family",FONT).style("font-size","32px");
  });
  ay.selectAll(".tick text").attr("dy","0.36em");

  // reference lines
  g.append("line").attr("x1",px).attr("x2",px+pw).attr("y1",y(0)).attr("y2",y(0))
    .attr("stroke","#555").attr("stroke-width",2);
  g.append("line").attr("x1",x(0)).attr("x2",x(0)).attr("y1",py).attr("y2",py+ph)
    .attr("stroke","#555").attr("stroke-width",2);

  // data lines
  const clipId = "clip"+i;
  g.append("clipPath").attr("id",clipId).append("rect")
    .attr("x",px).attr("y",py).attr("width",pw).attr("height",ph);
  const line = d3.line().x(d=>x(d[0])).y(d=>y(d[1]));
  panelSeries[i].forEach((s, k) => {
    g.append("path").datum(s).attr("d",line).attr("fill","none")
      .attr("stroke",seriesColors[k]).attr("stroke-width",5)
      .attr("stroke-linejoin","round").attr("clip-path",`url(#${clipId})`);
  });

  // axis titles
  g.append("text").attr("x",px+pw/2).attr("y",py+ph+79).attr("text-anchor","middle")
    .attr("fill","#000").style("font-family",FONT).style("font-size","43px").text(xLabel);
  g.append("text").attr("transform",`translate(${px-47},${py+ph/2}) rotate(-90)`)
    .attr("text-anchor","middle").attr("fill","#000")
    .style("font-family",FONT).style("font-size","44px").text(yLabel);

  // legend
  const lx = px + pw + 27.7, cy = py + ph/2;
  g.append("text").attr("x",lx).attr("y",cy-25).attr("fill","#000")
    .style("font-family",FONT).style("font-size","42px").text(legendTitle);
  seriesNames.forEach((nm, k) => {
    const ky = cy - 17.5 + k*38.5;
    g.append("rect").attr("x",lx).attr("y",ky).attr("width",37.7).attr("height",38.5)
      .attr("fill","#fff").attr("stroke","#d6d6d6").attr("stroke-width",1.5);
    g.append("line").attr("x1",lx+3).attr("x2",lx+31.5).attr("y1",ky+19.25).attr("y2",ky+19.25)
      .attr("stroke",seriesColors[k]).attr("stroke-width",4.5);
    g.append("text").attr("x",lx+41.5).attr("y",ky+19.25+13).attr("fill","#000")
      .style("font-family",FONT).style("font-size","37px").text(nm);
  });
});
</script>
</body></html>
